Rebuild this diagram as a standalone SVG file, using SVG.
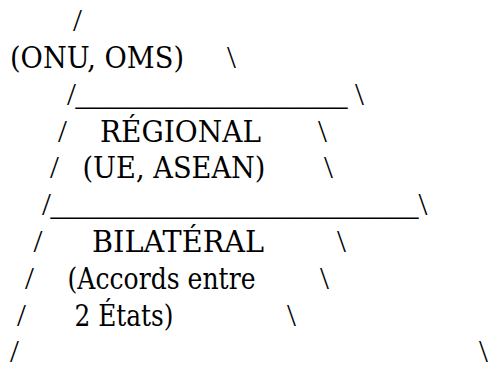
<svg xmlns="http://www.w3.org/2000/svg" width="488" height="368" viewBox="0 0 488 368">
<style>
  .t { font-family: 'Liberation Serif', 'DejaVu Serif', serif; font-size: 32px; fill: #000; }
  .w { font-family: 'DejaVu Serif', serif; font-size: 29px; fill: #000; }
</style>
<rect width="488" height="368" fill="#fff"/>
<g id="connectors" class="t">
  <text x="73" y="31">/</text>
  <text x="227" y="68">\</text>
  <text x="67" y="105">/</text>
  <text x="75.5" y="105">_________________</text>
  <text x="355" y="105">\</text>
  <text x="58" y="141.5">/</text>
  <text x="318" y="141.5">\</text>
  <text x="50" y="178">/</text>
  <text x="324" y="178">\</text>
  <text x="42" y="215">/</text>
  <text x="50.5" y="215">_______________________</text>
  <text x="418.5" y="215">\</text>
  <text x="33.5" y="252">/</text>
  <text x="337" y="252">\</text>
  <text x="25" y="289">/</text>
  <text x="320" y="289">\</text>
  <text x="17" y="325.5">/</text>
  <text x="287" y="325.5">\</text>
  <text x="10" y="362">/</text>
  <text x="479" y="362">\</text>
</g>
<g id="international" class="w">
  <text x="10" y="68" textLength="174" lengthAdjust="spacingAndGlyphs">(ONU, OMS)</text>
</g>
<g id="regional" class="w">
  <text x="100" y="141.5" textLength="161" lengthAdjust="spacingAndGlyphs">RÉGIONAL</text>
  <text x="82.5" y="178" textLength="183" lengthAdjust="spacingAndGlyphs">(UE, ASEAN)</text>
</g>
<g id="bilateral" class="w">
  <text x="92" y="252" textLength="172" lengthAdjust="spacingAndGlyphs">BILATÉRAL</text>
  <text x="67.5" y="289" textLength="188" lengthAdjust="spacingAndGlyphs">(Accords entre</text>
  <text x="74.5" y="325.5" textLength="99" lengthAdjust="spacingAndGlyphs">2 États)</text>
</g>
</svg>
